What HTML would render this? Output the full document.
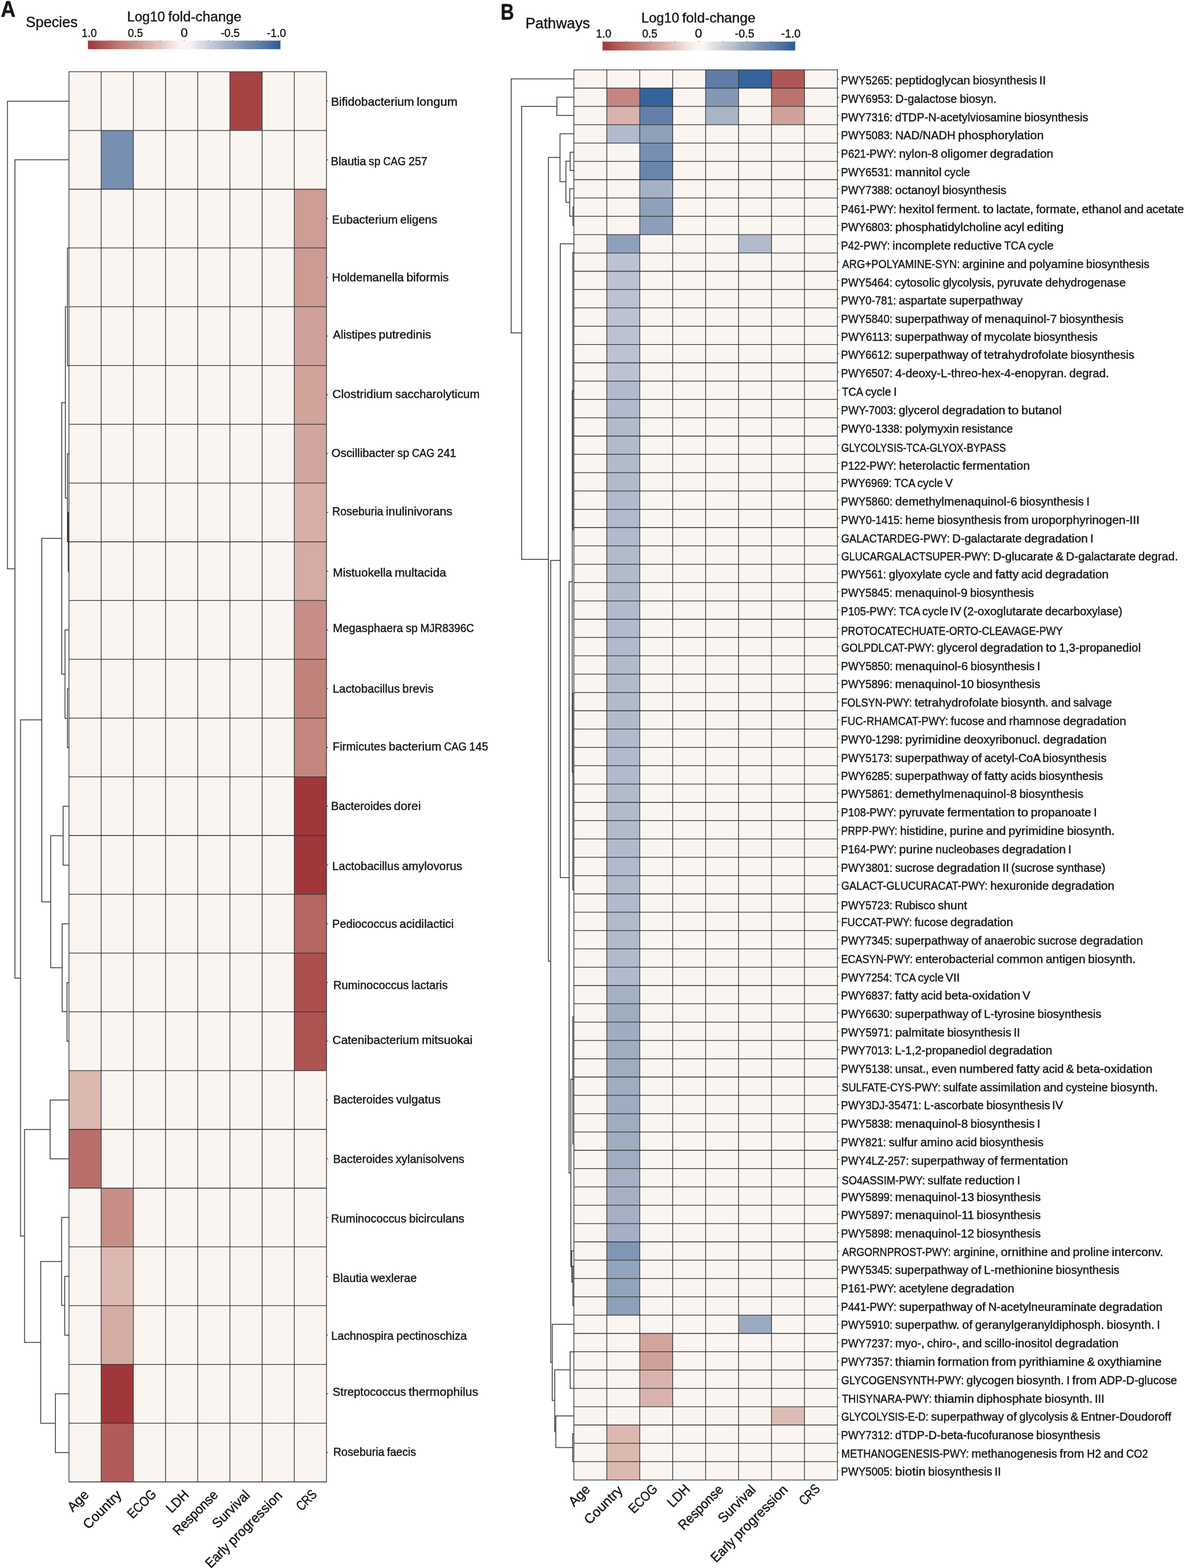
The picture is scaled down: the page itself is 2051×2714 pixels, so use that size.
<!DOCTYPE html>
<html lang="en"><head><meta charset="utf-8"><title>Species and pathways heatmaps</title>
<style>html,body{margin:0;padding:0;background:#fff;width:2051px;height:2714px}svg{display:block}text{font-family:'Liberation Sans',sans-serif;fill:#151515;stroke:#151515;stroke-width:0.45;white-space:pre}</style></head><body>
<svg width="2051" height="2714" viewBox="0 0 2051 2714">
<rect width="2051" height="2714" fill="#fff"/>
<g id="panelA">
<rect x="119.4" y="124.1" width="445.7" height="2440.9" fill="#faf5f1"/>
<rect x="397.96" y="124.1" width="55.71" height="101.7" fill="#a64344"/>
<rect x="175.11" y="225.8" width="55.71" height="101.7" fill="#778fb1"/>
<rect x="509.39" y="327.51" width="55.71" height="101.7" fill="#ce9d95"/>
<rect x="509.39" y="429.21" width="55.71" height="101.7" fill="#cd9b94"/>
<rect x="509.39" y="530.92" width="55.71" height="101.7" fill="#d0a19a"/>
<rect x="509.39" y="632.62" width="55.71" height="101.7" fill="#d1a39b"/>
<rect x="509.39" y="734.33" width="55.71" height="101.7" fill="#d2a69e"/>
<rect x="509.39" y="836.03" width="55.71" height="101.7" fill="#d7afa7"/>
<rect x="509.39" y="937.73" width="55.71" height="101.7" fill="#d5aca4"/>
<rect x="509.39" y="1039.44" width="55.71" height="101.7" fill="#c78e87"/>
<rect x="509.39" y="1141.14" width="55.71" height="101.7" fill="#c2827c"/>
<rect x="509.39" y="1242.85" width="55.71" height="101.7" fill="#c48680"/>
<rect x="509.39" y="1344.55" width="55.71" height="101.7" fill="#a0373b"/>
<rect x="509.39" y="1446.25" width="55.71" height="101.7" fill="#a0373b"/>
<rect x="509.39" y="1547.96" width="55.71" height="101.7" fill="#b66663"/>
<rect x="509.39" y="1649.66" width="55.71" height="101.7" fill="#ac4f4f"/>
<rect x="509.39" y="1751.37" width="55.71" height="101.7" fill="#ad5351"/>
<rect x="119.4" y="1853.07" width="55.71" height="101.7" fill="#dbb8b0"/>
<rect x="119.4" y="1954.77" width="55.71" height="101.7" fill="#ba6e6a"/>
<rect x="175.11" y="2056.48" width="55.71" height="101.7" fill="#c78e87"/>
<rect x="175.11" y="2158.18" width="55.71" height="101.7" fill="#dbb8b0"/>
<rect x="175.11" y="2259.89" width="55.71" height="101.7" fill="#d5aca4"/>
<rect x="175.11" y="2361.59" width="55.71" height="101.7" fill="#a0373b"/>
<rect x="175.11" y="2463.3" width="55.71" height="101.7" fill="#b15c5a"/>
<path d="M119.4 124.1H565.1M119.4 225.8H565.1M119.4 327.51H565.1M119.4 429.21H565.1M119.4 530.92H565.1M119.4 632.62H565.1M119.4 734.33H565.1M119.4 836.03H565.1M119.4 937.73H565.1M119.4 1039.44H565.1M119.4 1141.14H565.1M119.4 1242.85H565.1M119.4 1344.55H565.1M119.4 1446.25H565.1M119.4 1547.96H565.1M119.4 1649.66H565.1M119.4 1751.37H565.1M119.4 1853.07H565.1M119.4 1954.77H565.1M119.4 2056.48H565.1M119.4 2158.18H565.1M119.4 2259.89H565.1M119.4 2361.59H565.1M119.4 2463.3H565.1M119.4 2565H565.1M119.4 124.1V2565M175.11 124.1V2565M230.83 124.1V2565M286.54 124.1V2565M342.25 124.1V2565M397.96 124.1V2565M453.68 124.1V2565M509.39 124.1V2565M565.1 124.1V2565" fill="none" stroke="#363636" stroke-width="1.3" stroke-linecap="square"/>
<path d="M565.1 174.95h2.8M565.1 276.66h2.8M565.1 378.36h2.8M565.1 480.06h2.8M565.1 581.77h2.8M565.1 683.47h2.8M565.1 785.18h2.8M565.1 886.88h2.8M565.1 988.59h2.8M565.1 1090.29h2.8M565.1 1191.99h2.8M565.1 1293.7h2.8M565.1 1395.4h2.8M565.1 1497.11h2.8M565.1 1598.81h2.8M565.1 1700.51h2.8M565.1 1802.22h2.8M565.1 1903.92h2.8M565.1 2005.63h2.8M565.1 2107.33h2.8M565.1 2209.04h2.8M565.1 2310.74h2.8M565.1 2412.44h2.8M565.1 2514.15h2.8" fill="none" stroke="#363636" stroke-width="1.2"/>
<path d="M119.4 175.3H12.9V984.5H25.8M119.4 276.6H25.8V1693H35.5M72.3 1246H35.5V2139.5H42.5M106.8 931.8H72.3V1561H87.7M113.2 697H106.8V1166.8H112.5M116.7 531H113.2V862H116.7M119.4 429.2H116.7V633H119.4M119.4 785.4H116.7V938H118.2M119.4 887H118.2V989H119.4M119.4 1090.2H112.5V1243.4H116.7M119.4 1192.3H116.7V1294.2H119.4M109.3 1446.4H87.7V1675H107.6M119.4 1395.6H109.3V1497.4H119.4M119.4 1599H107.6V1751H116M119.4 1700.8H116V1802.2H119.4M86.7 1955H42.5V2323.6H70.5M119.4 1904H86.7V2005.8H119.4M106.6 2183.6H70.5V2463.5H95.8M119.4 2107.3H106.6V2259.5H112M119.4 2209.3H112V2311H119.4M119.4 2412.5H95.8V2514.2H119.4" fill="none" stroke="#3c3c3c" stroke-width="1.5" stroke-linejoin="miter"/>
<text transform="translate(574.6 182.6)" font-size="20.49"><tspan x="-1.71" textLength="143.87" lengthAdjust="spacingAndGlyphs">Bifidobacterium</tspan> <tspan x="146.72" textLength="70.6" lengthAdjust="spacingAndGlyphs">longum</tspan></text>
<text transform="translate(574.2 285.6)" font-size="20.34"><tspan x="-1.64" textLength="60.99" lengthAdjust="spacingAndGlyphs">Blautia</tspan> <tspan x="63.88" textLength="20.59" lengthAdjust="spacingAndGlyphs">sp</tspan> <tspan x="89" textLength="39.22" lengthAdjust="spacingAndGlyphs">CAG</tspan> <tspan x="132.75" textLength="32.84" lengthAdjust="spacingAndGlyphs">257</tspan></text>
<text transform="translate(576.1 386.5)" font-size="20.4"><tspan x="-1.66" textLength="113.91" lengthAdjust="spacingAndGlyphs">Eubacterium</tspan> <tspan x="116.78" textLength="63.85" lengthAdjust="spacingAndGlyphs">eligens</tspan></text>
<text transform="translate(576.1 487.3)" font-size="20.36"><tspan x="-1.67" textLength="124.51" lengthAdjust="spacingAndGlyphs">Holdemanella</tspan> <tspan x="127.37" textLength="73.39" lengthAdjust="spacingAndGlyphs">biformis</tspan></text>
<text transform="translate(576.4 586.3)" font-size="20.28"><tspan x="-0.04" textLength="74.68" lengthAdjust="spacingAndGlyphs">Alistipes</tspan> <tspan x="79.15" textLength="90.7" lengthAdjust="spacingAndGlyphs">putredinis</tspan></text>
<text transform="translate(576.4 688.9)" font-size="20.51"><tspan x="-1.06" textLength="104.07" lengthAdjust="spacingAndGlyphs">Clostridium</tspan> <tspan x="107.58" textLength="146.17" lengthAdjust="spacingAndGlyphs">saccharolyticum</tspan></text>
<text transform="translate(574.7 791.3)" font-size="20.35"><tspan x="-0.95" textLength="109.54" lengthAdjust="spacingAndGlyphs">Oscillibacter</tspan> <tspan x="113.11" textLength="20.6" lengthAdjust="spacingAndGlyphs">sp</tspan> <tspan x="138.24" textLength="39.24" lengthAdjust="spacingAndGlyphs">CAG</tspan> <tspan x="182.01" textLength="32.86" lengthAdjust="spacingAndGlyphs">241</tspan></text>
<text transform="translate(576.5 892.2)" font-size="20.33"><tspan x="-1.59" textLength="88.46" lengthAdjust="spacingAndGlyphs">Roseburia</tspan> <tspan x="91.39" textLength="114.96" lengthAdjust="spacingAndGlyphs">inulinivorans</tspan></text>
<text transform="translate(578 998.4)" font-size="20.38"><tspan x="-1.68" textLength="102.43" lengthAdjust="spacingAndGlyphs">Mistuokella</tspan> <tspan x="105.28" textLength="89.02" lengthAdjust="spacingAndGlyphs">multacida</tspan></text>
<text transform="translate(578 1093.7)" font-size="20.43"><tspan x="-1.63" textLength="121.26" lengthAdjust="spacingAndGlyphs">Megasphaera</tspan> <tspan x="124.18" textLength="20.68" lengthAdjust="spacingAndGlyphs">sp</tspan> <tspan x="149.41" textLength="93.1" lengthAdjust="spacingAndGlyphs">MJR8396C</tspan></text>
<text transform="translate(577.4 1199)" font-size="20.39"><tspan x="-1.65" textLength="116.28" lengthAdjust="spacingAndGlyphs">Lactobacillus</tspan> <tspan x="119.16" textLength="53.67" lengthAdjust="spacingAndGlyphs">brevis</tspan></text>
<text transform="translate(577.4 1299.2)" font-size="20.31"><tspan x="-1.65" textLength="92.54" lengthAdjust="spacingAndGlyphs">Firmicutes</tspan> <tspan x="95.41" textLength="91.13" lengthAdjust="spacingAndGlyphs">bacterium</tspan> <tspan x="191.05" textLength="39.16" lengthAdjust="spacingAndGlyphs">CAG</tspan> <tspan x="234.73" textLength="32.79" lengthAdjust="spacingAndGlyphs">145</tspan></text>
<text transform="translate(574.6 1402.2)" font-size="20.38"><tspan x="-1.62" textLength="104.27" lengthAdjust="spacingAndGlyphs">Bacteroides</tspan> <tspan x="107.19" textLength="46.52" lengthAdjust="spacingAndGlyphs">dorei</tspan></text>
<text transform="translate(576.7 1505.7)" font-size="20.38"><tspan x="-1.65" textLength="116.19" lengthAdjust="spacingAndGlyphs">Lactobacillus</tspan> <tspan x="119.08" textLength="104.26" lengthAdjust="spacingAndGlyphs">amylovorus</tspan></text>
<text transform="translate(576.7 1606)" font-size="20.44"><tspan x="-1.62" textLength="111.94" lengthAdjust="spacingAndGlyphs">Pediococcus</tspan> <tspan x="114.87" textLength="93.82" lengthAdjust="spacingAndGlyphs">acidilactici</tspan></text>
<text transform="translate(578.4 1711.7)" font-size="20.42"><tspan x="-1.63" textLength="130.71" lengthAdjust="spacingAndGlyphs">Ruminococcus</tspan> <tspan x="133.62" textLength="62.9" lengthAdjust="spacingAndGlyphs">lactaris</tspan></text>
<text transform="translate(576.6 1806.6)" font-size="20.53"><tspan x="-1.05" textLength="149.91" lengthAdjust="spacingAndGlyphs">Catenibacterium</tspan> <tspan x="153.43" textLength="87.88" lengthAdjust="spacingAndGlyphs">mitsuokai</tspan></text>
<text transform="translate(578.4 1910)" font-size="20.41"><tspan x="-1.62" textLength="104.41" lengthAdjust="spacingAndGlyphs">Bacteroides</tspan> <tspan x="107.32" textLength="76.82" lengthAdjust="spacingAndGlyphs">vulgatus</tspan></text>
<text transform="translate(578 2012.7)" font-size="20.37"><tspan x="-1.62" textLength="104.19" lengthAdjust="spacingAndGlyphs">Bacteroides</tspan> <tspan x="107.1" textLength="118.72" lengthAdjust="spacingAndGlyphs">xylanisolvens</tspan></text>
<text transform="translate(574.6 2115.7)" font-size="20.37"><tspan x="-1.63" textLength="130.39" lengthAdjust="spacingAndGlyphs">Ruminococcus</tspan> <tspan x="133.29" textLength="95.74" lengthAdjust="spacingAndGlyphs">bicirculans</tspan></text>
<text transform="translate(577.4 2218.8)" font-size="20.37"><tspan x="-1.64" textLength="61.1" lengthAdjust="spacingAndGlyphs">Blautia</tspan> <tspan x="63.99" textLength="80.1" lengthAdjust="spacingAndGlyphs">wexlerae</tspan></text>
<text transform="translate(574.8 2318.9)" font-size="20.35"><tspan x="-1.63" textLength="108.24" lengthAdjust="spacingAndGlyphs">Lachnospira</tspan> <tspan x="111.14" textLength="122.36" lengthAdjust="spacingAndGlyphs">pectinoschiza</tspan></text>
<text transform="translate(576.6 2415.5)" font-size="20.37"><tspan x="-0.91" textLength="127.01" lengthAdjust="spacingAndGlyphs">Streptococcus</tspan> <tspan x="130.63" textLength="120.53" lengthAdjust="spacingAndGlyphs">thermophilus</tspan></text>
<text transform="translate(578.4 2520.4)" font-size="20.33"><tspan x="-1.59" textLength="88.47" lengthAdjust="spacingAndGlyphs">Roseburia</tspan> <tspan x="91.4" textLength="50.2" lengthAdjust="spacingAndGlyphs">faecis</tspan></text>
<text transform="translate(154.4 2589.4) rotate(-45)" font-size="23.54"><tspan x="-40.27" textLength="41.3" lengthAdjust="spacingAndGlyphs">Age</tspan></text>
<text transform="translate(211.6 2589.2) rotate(-45)" font-size="23.54"><tspan x="-83.04" textLength="83.09" lengthAdjust="spacingAndGlyphs">Country</tspan></text>
<text transform="translate(270.8 2588.8) rotate(-45)" font-size="23.54"><tspan x="-57.94" textLength="59.45" lengthAdjust="spacingAndGlyphs">ECOG</tspan></text>
<text transform="translate(327 2590) rotate(-45)" font-size="23.54"><tspan x="-42.41" textLength="44.21" lengthAdjust="spacingAndGlyphs">LDH</tspan></text>
<text transform="translate(378 2589.5) rotate(-45)" font-size="23.54"><tspan x="-97.95" textLength="98.92" lengthAdjust="spacingAndGlyphs">Response</tspan></text>
<text transform="translate(432.8 2590.2) rotate(-45)" font-size="23.54"><tspan x="-79.61" textLength="81.14" lengthAdjust="spacingAndGlyphs">Survival</tspan></text>
<text transform="translate(489 2591) rotate(-45)" font-size="23.54"><tspan x="-175.87" textLength="49.6" lengthAdjust="spacingAndGlyphs">Early</tspan> <tspan x="-121.04" textLength="122.56" lengthAdjust="spacingAndGlyphs">progression</tspan></text>
<text transform="translate(549.4 2588.8) rotate(-45)" font-size="23.54"><tspan x="-38.93" textLength="39.79" lengthAdjust="spacingAndGlyphs">CRS</tspan></text>
<linearGradient id="cbA" x1="0" x2="1" y1="0" y2="0"><stop offset="0" stop-color="#a0373b"/><stop offset="0.03" stop-color="#a54143"/><stop offset="0.05" stop-color="#a94b4b"/><stop offset="0.07" stop-color="#ae5654"/><stop offset="0.1" stop-color="#b35f5c"/><stop offset="0.12" stop-color="#b76865"/><stop offset="0.15" stop-color="#bc726e"/><stop offset="0.17" stop-color="#bf7c76"/><stop offset="0.2" stop-color="#c48680"/><stop offset="0.23" stop-color="#c88f88"/><stop offset="0.25" stop-color="#cc9991"/><stop offset="0.28" stop-color="#d1a39b"/><stop offset="0.3" stop-color="#d5aca4"/><stop offset="0.33" stop-color="#dab6ae"/><stop offset="0.35" stop-color="#dfbfb8"/><stop offset="0.38" stop-color="#e4c8c2"/><stop offset="0.4" stop-color="#e9d3ce"/><stop offset="0.42" stop-color="#efddd9"/><stop offset="0.45" stop-color="#f5e8e4"/><stop offset="0.47" stop-color="#f9f0ed"/><stop offset="0.5" stop-color="#faf5f2"/><stop offset="0.53" stop-color="#f6f3f2"/><stop offset="0.55" stop-color="#edecee"/><stop offset="0.57" stop-color="#e1e2e7"/><stop offset="0.6" stop-color="#d7dae1"/><stop offset="0.62" stop-color="#cdd1dc"/><stop offset="0.65" stop-color="#c1c8d5"/><stop offset="0.68" stop-color="#b7c0cf"/><stop offset="0.7" stop-color="#acb7c9"/><stop offset="0.72" stop-color="#a2afc4"/><stop offset="0.75" stop-color="#99a8bf"/><stop offset="0.78" stop-color="#8d9fba"/><stop offset="0.8" stop-color="#8498b6"/><stop offset="0.82" stop-color="#7990b1"/><stop offset="0.85" stop-color="#6f89ae"/><stop offset="0.88" stop-color="#6582aa"/><stop offset="0.9" stop-color="#5a7aa6"/><stop offset="0.93" stop-color="#4f73a3"/><stop offset="0.95" stop-color="#436ba0"/><stop offset="0.97" stop-color="#37649d"/><stop offset="1" stop-color="#295c99"/></linearGradient>
<rect x="152.2" y="70.3" width="333.2" height="14.9" fill="url(#cbA)"/>
<path d="M152.2 70.5v-1.3M193.85 70.5v-1.3M235.5 70.5v-1.3M277.15 70.5v-1.3M318.8 70.5v-1.3M360.45 70.5v-1.3M402.1 70.5v-1.3M443.75 70.5v-1.3M485.4 70.5v-1.3" stroke="#555" stroke-width="1.1" fill="none"/>
<text transform="translate(1.31 29) scale(0.9214 1)" font-size="38.66" font-weight="bold" stroke-width="2.6" stroke-linejoin="miter">A</text>
<text transform="translate(46 47)" font-size="26.45"><tspan x="-1.14" textLength="89.35" lengthAdjust="spacingAndGlyphs">Species</tspan></text>
<text transform="translate(222 36.8)" font-size="23.98"><tspan x="-1.93" textLength="65.57" lengthAdjust="spacingAndGlyphs">Log10</tspan> <tspan x="68.97" textLength="127.01" lengthAdjust="spacingAndGlyphs">fold-change</tspan></text>
<text transform="translate(142.6 63.7)" font-size="20.48"><tspan x="-1.45" textLength="26.5" lengthAdjust="spacingAndGlyphs">1.0</tspan></text>
<text transform="translate(222 63.7)" font-size="20.27"><tspan x="-0.74" textLength="26.23" lengthAdjust="spacingAndGlyphs">0.5</tspan></text>
<text transform="translate(313.7 63.7)" font-size="22.05"><tspan x="-1.03">0</tspan></text>
<text transform="translate(382.8 63.7)" font-size="20.46"><tspan x="-0.85" textLength="33.06" lengthAdjust="spacingAndGlyphs">-0.5</tspan></text>
<text transform="translate(462.6 63.7)" font-size="20.68"><tspan x="-0.86" textLength="33.42" lengthAdjust="spacingAndGlyphs">-1.0</tspan></text>
</g>
<g id="panelB">
<rect x="993.3" y="120.8" width="456.1" height="2440.8" fill="#faf5f1"/>
<rect x="1221.35" y="120.8" width="57.01" height="31.7" fill="#5f7da8"/>
<rect x="1278.36" y="120.8" width="57.01" height="31.7" fill="#35639c"/>
<rect x="1335.38" y="120.8" width="57.01" height="31.7" fill="#af5756"/>
<rect x="1050.31" y="152.5" width="57.01" height="31.7" fill="#c48680"/>
<rect x="1107.33" y="152.5" width="57.01" height="31.7" fill="#35639c"/>
<rect x="1221.35" y="152.5" width="57.01" height="31.7" fill="#8498b6"/>
<rect x="1335.38" y="152.5" width="57.01" height="31.7" fill="#bc726e"/>
<rect x="1050.31" y="184.2" width="57.01" height="31.7" fill="#d9b3ab"/>
<rect x="1107.33" y="184.2" width="57.01" height="31.7" fill="#6280a9"/>
<rect x="1221.35" y="184.2" width="57.01" height="31.7" fill="#a9b4c7"/>
<rect x="1335.38" y="184.2" width="57.01" height="31.7" fill="#d0a19a"/>
<rect x="1050.31" y="215.9" width="57.01" height="31.7" fill="#b1bbcb"/>
<rect x="1107.33" y="215.9" width="57.01" height="31.7" fill="#8fa0bb"/>
<rect x="1107.33" y="247.59" width="57.01" height="31.7" fill="#778fb1"/>
<rect x="1107.33" y="279.29" width="57.01" height="31.7" fill="#6a85ac"/>
<rect x="1107.33" y="310.99" width="57.01" height="31.7" fill="#a4b1c5"/>
<rect x="1107.33" y="342.69" width="57.01" height="31.7" fill="#8fa0bb"/>
<rect x="1107.33" y="374.39" width="57.01" height="31.7" fill="#8c9eb9"/>
<rect x="1050.31" y="406.09" width="57.01" height="31.7" fill="#8fa0bb"/>
<rect x="1278.36" y="406.09" width="57.01" height="31.7" fill="#b1bbcb"/>
<rect x="1050.31" y="437.79" width="57.01" height="31.7" fill="#bbc3d1"/>
<rect x="1050.31" y="469.49" width="57.01" height="31.7" fill="#bbc3d1"/>
<rect x="1050.31" y="501.18" width="57.01" height="31.7" fill="#bbc3d1"/>
<rect x="1050.31" y="532.88" width="57.01" height="31.7" fill="#bbc3d1"/>
<rect x="1050.31" y="564.58" width="57.01" height="31.7" fill="#bbc3d1"/>
<rect x="1050.31" y="596.28" width="57.01" height="31.7" fill="#bbc3d1"/>
<rect x="1050.31" y="627.98" width="57.01" height="31.7" fill="#bbc3d1"/>
<rect x="1050.31" y="659.68" width="57.01" height="31.7" fill="#b1bbcb"/>
<rect x="1050.31" y="691.38" width="57.01" height="31.7" fill="#b1bbcb"/>
<rect x="1050.31" y="723.08" width="57.01" height="31.7" fill="#b1bbcb"/>
<rect x="1050.31" y="754.77" width="57.01" height="31.7" fill="#b1bbcb"/>
<rect x="1050.31" y="786.47" width="57.01" height="31.7" fill="#b1bbcb"/>
<rect x="1050.31" y="818.17" width="57.01" height="31.7" fill="#b1bbcb"/>
<rect x="1050.31" y="849.87" width="57.01" height="31.7" fill="#b1bbcb"/>
<rect x="1050.31" y="881.57" width="57.01" height="31.7" fill="#b1bbcb"/>
<rect x="1050.31" y="913.27" width="57.01" height="31.7" fill="#b1bbcb"/>
<rect x="1050.31" y="944.97" width="57.01" height="31.7" fill="#b1bbcb"/>
<rect x="1050.31" y="976.66" width="57.01" height="31.7" fill="#b1bbcb"/>
<rect x="1050.31" y="1008.36" width="57.01" height="31.7" fill="#b1bbcb"/>
<rect x="1050.31" y="1040.06" width="57.01" height="31.7" fill="#b1bbcb"/>
<rect x="1050.31" y="1071.76" width="57.01" height="31.7" fill="#b1bbcb"/>
<rect x="1050.31" y="1103.46" width="57.01" height="31.7" fill="#b1bbcb"/>
<rect x="1050.31" y="1135.16" width="57.01" height="31.7" fill="#b1bbcb"/>
<rect x="1050.31" y="1166.86" width="57.01" height="31.7" fill="#b1bbcb"/>
<rect x="1050.31" y="1198.56" width="57.01" height="31.7" fill="#b1bbcb"/>
<rect x="1050.31" y="1230.25" width="57.01" height="31.7" fill="#b1bbcb"/>
<rect x="1050.31" y="1261.95" width="57.01" height="31.7" fill="#b1bbcb"/>
<rect x="1050.31" y="1293.65" width="57.01" height="31.7" fill="#b1bbcb"/>
<rect x="1050.31" y="1325.35" width="57.01" height="31.7" fill="#b1bbcb"/>
<rect x="1050.31" y="1357.05" width="57.01" height="31.7" fill="#b1bbcb"/>
<rect x="1050.31" y="1388.75" width="57.01" height="31.7" fill="#b1bbcb"/>
<rect x="1050.31" y="1420.45" width="57.01" height="31.7" fill="#b1bbcb"/>
<rect x="1050.31" y="1452.15" width="57.01" height="31.7" fill="#b1bbcb"/>
<rect x="1050.31" y="1483.84" width="57.01" height="31.7" fill="#b1bbcb"/>
<rect x="1050.31" y="1515.54" width="57.01" height="31.7" fill="#b1bbcb"/>
<rect x="1050.31" y="1547.24" width="57.01" height="31.7" fill="#b1bbcb"/>
<rect x="1050.31" y="1578.94" width="57.01" height="31.7" fill="#b1bbcb"/>
<rect x="1050.31" y="1610.64" width="57.01" height="31.7" fill="#b1bbcb"/>
<rect x="1050.31" y="1642.34" width="57.01" height="31.7" fill="#b1bbcb"/>
<rect x="1050.31" y="1674.04" width="57.01" height="31.7" fill="#b1bbcb"/>
<rect x="1050.31" y="1705.74" width="57.01" height="31.7" fill="#a5b0c3"/>
<rect x="1050.31" y="1737.43" width="57.01" height="31.7" fill="#9fadc1"/>
<rect x="1050.31" y="1769.13" width="57.01" height="31.7" fill="#9fadc1"/>
<rect x="1050.31" y="1800.83" width="57.01" height="31.7" fill="#9fadc1"/>
<rect x="1050.31" y="1832.53" width="57.01" height="31.7" fill="#9fadc1"/>
<rect x="1050.31" y="1864.23" width="57.01" height="31.7" fill="#9fadc1"/>
<rect x="1050.31" y="1895.93" width="57.01" height="31.7" fill="#9fadc1"/>
<rect x="1050.31" y="1927.63" width="57.01" height="31.7" fill="#9fadc1"/>
<rect x="1050.31" y="1959.32" width="57.01" height="31.7" fill="#9fadc1"/>
<rect x="1050.31" y="1991.02" width="57.01" height="31.7" fill="#9fadc1"/>
<rect x="1050.31" y="2022.72" width="57.01" height="31.7" fill="#a6b0c4"/>
<rect x="1050.31" y="2054.42" width="57.01" height="31.7" fill="#a6b0c4"/>
<rect x="1050.31" y="2086.12" width="57.01" height="31.7" fill="#a6b0c4"/>
<rect x="1050.31" y="2117.82" width="57.01" height="31.7" fill="#a6b0c4"/>
<rect x="1050.31" y="2149.52" width="57.01" height="31.7" fill="#8196b5"/>
<rect x="1050.31" y="2181.22" width="57.01" height="31.7" fill="#92a3bc"/>
<rect x="1050.31" y="2212.91" width="57.01" height="31.7" fill="#92a3bc"/>
<rect x="1050.31" y="2244.61" width="57.01" height="31.7" fill="#8d9fba"/>
<rect x="1278.36" y="2276.31" width="57.01" height="31.7" fill="#9caac1"/>
<rect x="1107.33" y="2308.01" width="57.01" height="31.7" fill="#d2a49c"/>
<rect x="1107.33" y="2339.71" width="57.01" height="31.7" fill="#d0a19a"/>
<rect x="1107.33" y="2371.41" width="57.01" height="31.7" fill="#d9b3ab"/>
<rect x="1107.33" y="2403.11" width="57.01" height="31.7" fill="#d9b3ab"/>
<rect x="1335.38" y="2434.81" width="57.01" height="31.7" fill="#ddbcb5"/>
<rect x="1050.31" y="2466.5" width="57.01" height="31.7" fill="#dbb8b0"/>
<rect x="1050.31" y="2498.2" width="57.01" height="31.7" fill="#dbb8b0"/>
<rect x="1050.31" y="2529.9" width="57.01" height="31.7" fill="#dbb8b0"/>
<path d="M993.3 120.8H1449.4M993.3 152.5H1449.4M993.3 184.2H1449.4M993.3 215.9H1449.4M993.3 247.59H1449.4M993.3 279.29H1449.4M993.3 310.99H1449.4M993.3 342.69H1449.4M993.3 374.39H1449.4M993.3 406.09H1449.4M993.3 437.79H1449.4M993.3 469.49H1449.4M993.3 501.18H1449.4M993.3 532.88H1449.4M993.3 564.58H1449.4M993.3 596.28H1449.4M993.3 627.98H1449.4M993.3 659.68H1449.4M993.3 691.38H1449.4M993.3 723.08H1449.4M993.3 754.77H1449.4M993.3 786.47H1449.4M993.3 818.17H1449.4M993.3 849.87H1449.4M993.3 881.57H1449.4M993.3 913.27H1449.4M993.3 944.97H1449.4M993.3 976.66H1449.4M993.3 1008.36H1449.4M993.3 1040.06H1449.4M993.3 1071.76H1449.4M993.3 1103.46H1449.4M993.3 1135.16H1449.4M993.3 1166.86H1449.4M993.3 1198.56H1449.4M993.3 1230.25H1449.4M993.3 1261.95H1449.4M993.3 1293.65H1449.4M993.3 1325.35H1449.4M993.3 1357.05H1449.4M993.3 1388.75H1449.4M993.3 1420.45H1449.4M993.3 1452.15H1449.4M993.3 1483.84H1449.4M993.3 1515.54H1449.4M993.3 1547.24H1449.4M993.3 1578.94H1449.4M993.3 1610.64H1449.4M993.3 1642.34H1449.4M993.3 1674.04H1449.4M993.3 1705.74H1449.4M993.3 1737.43H1449.4M993.3 1769.13H1449.4M993.3 1800.83H1449.4M993.3 1832.53H1449.4M993.3 1864.23H1449.4M993.3 1895.93H1449.4M993.3 1927.63H1449.4M993.3 1959.32H1449.4M993.3 1991.02H1449.4M993.3 2022.72H1449.4M993.3 2054.42H1449.4M993.3 2086.12H1449.4M993.3 2117.82H1449.4M993.3 2149.52H1449.4M993.3 2181.22H1449.4M993.3 2212.91H1449.4M993.3 2244.61H1449.4M993.3 2276.31H1449.4M993.3 2308.01H1449.4M993.3 2339.71H1449.4M993.3 2371.41H1449.4M993.3 2403.11H1449.4M993.3 2434.81H1449.4M993.3 2466.5H1449.4M993.3 2498.2H1449.4M993.3 2529.9H1449.4M993.3 2561.6H1449.4M993.3 120.8V2561.6M1050.31 120.8V2561.6M1107.33 120.8V2561.6M1164.34 120.8V2561.6M1221.35 120.8V2561.6M1278.36 120.8V2561.6M1335.38 120.8V2561.6M1392.39 120.8V2561.6M1449.4 120.8V2561.6" fill="none" stroke="#363636" stroke-width="1.3" stroke-linecap="square"/>
<path d="M1449.4 136.65h2.8M1449.4 168.35h2.8M1449.4 200.05h2.8M1449.4 231.75h2.8M1449.4 263.44h2.8M1449.4 295.14h2.8M1449.4 326.84h2.8M1449.4 358.54h2.8M1449.4 390.24h2.8M1449.4 421.94h2.8M1449.4 453.64h2.8M1449.4 485.34h2.8M1449.4 517.03h2.8M1449.4 548.73h2.8M1449.4 580.43h2.8M1449.4 612.13h2.8M1449.4 643.83h2.8M1449.4 675.53h2.8M1449.4 707.23h2.8M1449.4 738.92h2.8M1449.4 770.62h2.8M1449.4 802.32h2.8M1449.4 834.02h2.8M1449.4 865.72h2.8M1449.4 897.42h2.8M1449.4 929.12h2.8M1449.4 960.82h2.8M1449.4 992.51h2.8M1449.4 1024.21h2.8M1449.4 1055.91h2.8M1449.4 1087.61h2.8M1449.4 1119.31h2.8M1449.4 1151.01h2.8M1449.4 1182.71h2.8M1449.4 1214.41h2.8M1449.4 1246.1h2.8M1449.4 1277.8h2.8M1449.4 1309.5h2.8M1449.4 1341.2h2.8M1449.4 1372.9h2.8M1449.4 1404.6h2.8M1449.4 1436.3h2.8M1449.4 1467.99h2.8M1449.4 1499.69h2.8M1449.4 1531.39h2.8M1449.4 1563.09h2.8M1449.4 1594.79h2.8M1449.4 1626.49h2.8M1449.4 1658.19h2.8M1449.4 1689.89h2.8M1449.4 1721.58h2.8M1449.4 1753.28h2.8M1449.4 1784.98h2.8M1449.4 1816.68h2.8M1449.4 1848.38h2.8M1449.4 1880.08h2.8M1449.4 1911.78h2.8M1449.4 1943.48h2.8M1449.4 1975.17h2.8M1449.4 2006.87h2.8M1449.4 2038.57h2.8M1449.4 2070.27h2.8M1449.4 2101.97h2.8M1449.4 2133.67h2.8M1449.4 2165.37h2.8M1449.4 2197.06h2.8M1449.4 2228.76h2.8M1449.4 2260.46h2.8M1449.4 2292.16h2.8M1449.4 2323.86h2.8M1449.4 2355.56h2.8M1449.4 2387.26h2.8M1449.4 2418.96h2.8M1449.4 2450.65h2.8M1449.4 2482.35h2.8M1449.4 2514.05h2.8M1449.4 2545.75h2.8" fill="none" stroke="#363636" stroke-width="1.2"/>
<path d="M993.3 136.6H884.7V576.2H902.9M963.8 184.3H902.9V968.2H949.2M993.3 168.3H963.8V199.8H993.3M969.3 272.6H949.2V1663.7H953.2M993.3 231.6H969.3V314.5H979.5M986.8 279.1H979.5V350.3H986.1M993.3 263.4H986.8V295H993.3M993.3 326.7H986.1V374.2H991.6M993.3 358.5H991.6V390.2H993.3M969.7 970H953.2V2358.3H955.8M993.3 421.9H969.7V1518.9H985M990.5 1006.9H985V2030.2H988M993.3 2292.3H955.8V2424H960.2M986.8 2371H960.2V2478.2H962M993.3 2339.7H986.8V2402.9H993.3M993.3 2450.8H962V2505.5H991.2M993.3 2481.8H991.2V2530H993.3M993.3 677H990.5V1336H993.3M993.3 1868H988V2192H993.3M993.3 437H991.4V917H993.3M993.3 1200H991.4V1540H993.3M993.3 1760H991.4V1980H993.3M993.3 2165H989.6V2219H991.5M993.3 2192H991.5V2260H993.3" fill="none" stroke="#3c3c3c" stroke-width="1.5" stroke-linejoin="miter"/>
<text transform="translate(1457.1 146.4)" font-size="20.39"><tspan x="-1.53" textLength="89.39" lengthAdjust="spacingAndGlyphs">PWY5265:</tspan> <tspan x="92.39" textLength="129.83" lengthAdjust="spacingAndGlyphs">peptidoglycan</tspan> <tspan x="226.76" textLength="110.98" lengthAdjust="spacingAndGlyphs">biosynthesis</tspan> <tspan x="341.72">II</tspan></text>
<text transform="translate(1457.1 178.2)" font-size="20.47"><tspan x="-1.54" textLength="89.75" lengthAdjust="spacingAndGlyphs">PWY6953:</tspan> <tspan x="92.77" textLength="106.49" lengthAdjust="spacingAndGlyphs">D-galactose</tspan> <tspan x="203.81" textLength="64.04" lengthAdjust="spacingAndGlyphs">biosyn.</tspan></text>
<text transform="translate(1457.1 209.6)" font-size="20.34"><tspan x="-1.53" textLength="89.15" lengthAdjust="spacingAndGlyphs">PWY7316:</tspan> <tspan x="92.15" textLength="219.07" lengthAdjust="spacingAndGlyphs">dTDP-N-acetylviosamine</tspan> <tspan x="315.74" textLength="110.69" lengthAdjust="spacingAndGlyphs">biosynthesis</tspan></text>
<text transform="translate(1457.1 241.4)" font-size="20.39"><tspan x="-1.53" textLength="89.39" lengthAdjust="spacingAndGlyphs">PWY5083:</tspan> <tspan x="92.39" textLength="104.13" lengthAdjust="spacingAndGlyphs">NAD/NADH</tspan> <tspan x="201.06" textLength="148.21" lengthAdjust="spacingAndGlyphs">phosphorylation</tspan></text>
<text transform="translate(1457.1 273.2)" font-size="20.29"><tspan x="-1.51" textLength="95.9" lengthAdjust="spacingAndGlyphs">P621-PWY:</tspan> <tspan x="98.9" textLength="67.83" lengthAdjust="spacingAndGlyphs">nylon-8</tspan> <tspan x="171.25" textLength="80.67" lengthAdjust="spacingAndGlyphs">oligomer</tspan> <tspan x="256.44" textLength="109.61" lengthAdjust="spacingAndGlyphs">degradation</tspan></text>
<text transform="translate(1457.1 305)" font-size="20.32"><tspan x="-1.53" textLength="89.09" lengthAdjust="spacingAndGlyphs">PWY6531:</tspan> <tspan x="92.08" textLength="80.51" lengthAdjust="spacingAndGlyphs">mannitol</tspan> <tspan x="177.11" textLength="44.86" lengthAdjust="spacingAndGlyphs">cycle</tspan></text>
<text transform="translate(1457.1 336.4)" font-size="20.34"><tspan x="-1.53" textLength="89.15" lengthAdjust="spacingAndGlyphs">PWY7388:</tspan> <tspan x="92.15" textLength="77.27" lengthAdjust="spacingAndGlyphs">octanoyl</tspan> <tspan x="173.94" textLength="110.69" lengthAdjust="spacingAndGlyphs">biosynthesis</tspan></text>
<text transform="translate(1457.1 369.3)" font-size="20.26"><tspan x="-1.5" textLength="95.74" lengthAdjust="spacingAndGlyphs">P461-PWY:</tspan> <tspan x="98.75" textLength="60.99" lengthAdjust="spacingAndGlyphs">hexitol</tspan> <tspan x="164.24" textLength="75.42" lengthAdjust="spacingAndGlyphs">ferment.</tspan> <tspan x="244.17" textLength="18.71" lengthAdjust="spacingAndGlyphs">to</tspan> <tspan x="267.38" textLength="64.15" lengthAdjust="spacingAndGlyphs">lactate,</tspan> <tspan x="336.04" textLength="74.89" lengthAdjust="spacingAndGlyphs">formate,</tspan> <tspan x="415.44" textLength="68.21" lengthAdjust="spacingAndGlyphs">ethanol</tspan> <tspan x="488.16" textLength="34.03" lengthAdjust="spacingAndGlyphs">and</tspan> <tspan x="526.7" textLength="65.39" lengthAdjust="spacingAndGlyphs">acetate</tspan></text>
<text transform="translate(1457.1 400.4)" font-size="20.39"><tspan x="-1.53" textLength="89.4" lengthAdjust="spacingAndGlyphs">PWY6803:</tspan> <tspan x="92.4" textLength="183.78" lengthAdjust="spacingAndGlyphs">phosphatidylcholine</tspan> <tspan x="280.71" textLength="35.03" lengthAdjust="spacingAndGlyphs">acyl</tspan> <tspan x="320.27" textLength="63.72" lengthAdjust="spacingAndGlyphs">editing</tspan></text>
<text transform="translate(1457.1 431.8)" font-size="20.23"><tspan x="-1.49" textLength="84.7" lengthAdjust="spacingAndGlyphs">P42-PWY:</tspan> <tspan x="87.71" textLength="100.98" lengthAdjust="spacingAndGlyphs">incomplete</tspan> <tspan x="193.19" textLength="83.58" lengthAdjust="spacingAndGlyphs">reductive</tspan> <tspan x="281.27" textLength="35.85" lengthAdjust="spacingAndGlyphs">TCA</tspan> <tspan x="321.62" textLength="44.65" lengthAdjust="spacingAndGlyphs">cycle</tspan></text>
<text transform="translate(1457.6 463.6)" font-size="20.16"><tspan x="-0.04" textLength="203.83" lengthAdjust="spacingAndGlyphs">ARG+POLYAMINE-SYN:</tspan> <tspan x="208.28" textLength="72.91" lengthAdjust="spacingAndGlyphs">arginine</tspan> <tspan x="285.67" textLength="33.86" lengthAdjust="spacingAndGlyphs">and</tspan> <tspan x="324.01" textLength="93.72" lengthAdjust="spacingAndGlyphs">polyamine</tspan> <tspan x="422.21" textLength="109.71" lengthAdjust="spacingAndGlyphs">biosynthesis</tspan></text>
<text transform="translate(1457.1 495.5)" font-size="20.31"><tspan x="-1.53" textLength="89.02" lengthAdjust="spacingAndGlyphs">PWY5464:</tspan> <tspan x="92.01" textLength="78.03" lengthAdjust="spacingAndGlyphs">cytosolic</tspan> <tspan x="174.56" textLength="89.56" lengthAdjust="spacingAndGlyphs">glycolysis,</tspan> <tspan x="268.63" textLength="79.12" lengthAdjust="spacingAndGlyphs">pyruvate</tspan> <tspan x="352.26" textLength="139.03" lengthAdjust="spacingAndGlyphs">dehydrogenase</tspan></text>
<text transform="translate(1457.1 526.8)" font-size="20.27"><tspan x="-1.53" textLength="95.4" lengthAdjust="spacingAndGlyphs">PWY0-781:</tspan> <tspan x="98.37" textLength="82.97" lengthAdjust="spacingAndGlyphs">aspartate</tspan> <tspan x="185.86" textLength="126.98" lengthAdjust="spacingAndGlyphs">superpathway</tspan></text>
<text transform="translate(1457.1 558.6)" font-size="20.34"><tspan x="-1.53" textLength="89.19" lengthAdjust="spacingAndGlyphs">PWY5840:</tspan> <tspan x="92.19" textLength="127.45" lengthAdjust="spacingAndGlyphs">superpathway</tspan> <tspan x="224.16" textLength="17.95" lengthAdjust="spacingAndGlyphs">of</tspan> <tspan x="246.64" textLength="125.53" lengthAdjust="spacingAndGlyphs">menaquinol-7</tspan> <tspan x="376.69" textLength="110.73" lengthAdjust="spacingAndGlyphs">biosynthesis</tspan></text>
<text transform="translate(1457.1 589.6)" font-size="20.28"><tspan x="-1.53" textLength="88.93" lengthAdjust="spacingAndGlyphs">PWY6113:</tspan> <tspan x="91.92" textLength="127.07" lengthAdjust="spacingAndGlyphs">superpathway</tspan> <tspan x="223.5" textLength="17.9" lengthAdjust="spacingAndGlyphs">of</tspan> <tspan x="245.92" textLength="81.99" lengthAdjust="spacingAndGlyphs">mycolate</tspan> <tspan x="332.42" textLength="110.41" lengthAdjust="spacingAndGlyphs">biosynthesis</tspan></text>
<text transform="translate(1457.1 621.4)" font-size="20.28"><tspan x="-1.53" textLength="88.92" lengthAdjust="spacingAndGlyphs">PWY6612:</tspan> <tspan x="91.9" textLength="127.06" lengthAdjust="spacingAndGlyphs">superpathway</tspan> <tspan x="223.47" textLength="17.9" lengthAdjust="spacingAndGlyphs">of</tspan> <tspan x="245.88" textLength="145.34" lengthAdjust="spacingAndGlyphs">tetrahydrofolate</tspan> <tspan x="395.73" textLength="110.39" lengthAdjust="spacingAndGlyphs">biosynthesis</tspan></text>
<text transform="translate(1457.1 653.2)" font-size="20.38"><tspan x="-1.53" textLength="89.33" lengthAdjust="spacingAndGlyphs">PWY6507:</tspan> <tspan x="92.33" textLength="296.88" lengthAdjust="spacingAndGlyphs">4-deoxy-L-threo-hex-4-enopyran.</tspan> <tspan x="393.74" textLength="68.5" lengthAdjust="spacingAndGlyphs">degrad.</tspan></text>
<text transform="translate(1457.6 685.4)" font-size="20.27"><tspan x="-0.4" textLength="35.93" lengthAdjust="spacingAndGlyphs">TCA</tspan> <tspan x="40.04" textLength="44.76" lengthAdjust="spacingAndGlyphs">cycle</tspan> <tspan x="89.03">I</tspan></text>
<text transform="translate(1457.1 716.8)" font-size="20.26"><tspan x="-1.53" textLength="95.35" lengthAdjust="spacingAndGlyphs">PWY-7003:</tspan> <tspan x="98.33" textLength="70.73" lengthAdjust="spacingAndGlyphs">glycerol</tspan> <tspan x="173.57" textLength="109.45" lengthAdjust="spacingAndGlyphs">degradation</tspan> <tspan x="287.52" textLength="18.71" lengthAdjust="spacingAndGlyphs">to</tspan> <tspan x="310.74" textLength="69.58" lengthAdjust="spacingAndGlyphs">butanol</tspan></text>
<text transform="translate(1457.1 748.6)" font-size="20.29"><tspan x="-1.54" textLength="106.44" lengthAdjust="spacingAndGlyphs">PWY0-1338:</tspan> <tspan x="109.41" textLength="93.32" lengthAdjust="spacingAndGlyphs">polymyxin</tspan> <tspan x="207.24" textLength="88.82" lengthAdjust="spacingAndGlyphs">resistance</tspan></text>
<text transform="translate(1456.8 782.2)" font-size="19.54"><tspan x="-0.85" textLength="285.13" lengthAdjust="spacingAndGlyphs">GLYCOLYSIS-TCA-GLYOX-BYPASS</tspan></text>
<text transform="translate(1457.1 813.3)" font-size="20.28"><tspan x="-1.51" textLength="95.86" lengthAdjust="spacingAndGlyphs">P122-PWY:</tspan> <tspan x="98.87" textLength="105.2" lengthAdjust="spacingAndGlyphs">heterolactic</tspan> <tspan x="208.58" textLength="116.89" lengthAdjust="spacingAndGlyphs">fermentation</tspan></text>
<text transform="translate(1457.1 843.2)" font-size="20.04"><tspan x="-1.51" textLength="87.84" lengthAdjust="spacingAndGlyphs">PWY6969:</tspan> <tspan x="90.79" textLength="35.51" lengthAdjust="spacingAndGlyphs">TCA</tspan> <tspan x="130.75" textLength="44.23" lengthAdjust="spacingAndGlyphs">cycle</tspan> <tspan x="178.63">V</tspan></text>
<text transform="translate(1457.1 874.7)" font-size="20.38"><tspan x="-1.53" textLength="89.33" lengthAdjust="spacingAndGlyphs">PWY5860:</tspan> <tspan x="92.33" textLength="211.09" lengthAdjust="spacingAndGlyphs">demethylmenaquinol-6</tspan> <tspan x="307.95" textLength="110.9" lengthAdjust="spacingAndGlyphs">biosynthesis</tspan> <tspan x="423.11">I</tspan></text>
<text transform="translate(1457.1 906.8)" font-size="20.36"><tspan x="-1.54" textLength="106.76" lengthAdjust="spacingAndGlyphs">PWY0-1415:</tspan> <tspan x="109.74" textLength="51.07" lengthAdjust="spacingAndGlyphs">heme</tspan> <tspan x="165.35" textLength="110.8" lengthAdjust="spacingAndGlyphs">biosynthesis</tspan> <tspan x="280.67" textLength="42.76" lengthAdjust="spacingAndGlyphs">from</tspan> <tspan x="327.97" textLength="187.35" lengthAdjust="spacingAndGlyphs">uroporphyrinogen-III</tspan></text>
<text transform="translate(1456.8 938.6)" font-size="20.33"><tspan x="-0.9" textLength="187.88" lengthAdjust="spacingAndGlyphs">GALACTARDEG-PWY:</tspan> <tspan x="191.5" textLength="120.21" lengthAdjust="spacingAndGlyphs">D-galactarate</tspan> <tspan x="316.23" textLength="109.84" lengthAdjust="spacingAndGlyphs">degradation</tspan> <tspan x="430.32">I</tspan></text>
<text transform="translate(1456.8 969.6)" font-size="20.4"><tspan x="-0.89" textLength="257.95" lengthAdjust="spacingAndGlyphs">GLUCARGALACTSUPER-PWY:</tspan> <tspan x="261.59" textLength="104.69" lengthAdjust="spacingAndGlyphs">D-glucarate</tspan> <tspan x="370.49">&amp;</tspan> <tspan x="388.3" textLength="120.61" lengthAdjust="spacingAndGlyphs">D-galactarate</tspan> <tspan x="513.46" textLength="68.59" lengthAdjust="spacingAndGlyphs">degrad.</tspan></text>
<text transform="translate(1457.1 1001.4)" font-size="20.32"><tspan x="-1.52" textLength="78.16" lengthAdjust="spacingAndGlyphs">PWY561:</tspan> <tspan x="81.16" textLength="91.68" lengthAdjust="spacingAndGlyphs">glyoxylate</tspan> <tspan x="177.36" textLength="44.87" lengthAdjust="spacingAndGlyphs">cycle</tspan> <tspan x="226.75" textLength="34.14" lengthAdjust="spacingAndGlyphs">and</tspan> <tspan x="265.41" textLength="40.67" lengthAdjust="spacingAndGlyphs">fatty</tspan> <tspan x="310.6" textLength="36.85" lengthAdjust="spacingAndGlyphs">acid</tspan> <tspan x="351.97" textLength="109.78" lengthAdjust="spacingAndGlyphs">degradation</tspan></text>
<text transform="translate(1457.1 1032.5)" font-size="20.32"><tspan x="-1.53" textLength="89.07" lengthAdjust="spacingAndGlyphs">PWY5845:</tspan> <tspan x="92.06" textLength="125.36" lengthAdjust="spacingAndGlyphs">menaquinol-9</tspan> <tspan x="221.94" textLength="110.58" lengthAdjust="spacingAndGlyphs">biosynthesis</tspan></text>
<text transform="translate(1457.1 1064.6)" font-size="20.27"><tspan x="-1.5" textLength="95.8" lengthAdjust="spacingAndGlyphs">P105-PWY:</tspan> <tspan x="98.81" textLength="35.93" lengthAdjust="spacingAndGlyphs">TCA</tspan> <tspan x="139.24" textLength="44.75" lengthAdjust="spacingAndGlyphs">cycle</tspan> <tspan x="187.41">IV</tspan> <tspan x="209.97" textLength="137.51" lengthAdjust="spacingAndGlyphs">(2-oxoglutarate</tspan> <tspan x="351.99" textLength="133.43" lengthAdjust="spacingAndGlyphs">decarboxylase)</tspan></text>
<text transform="translate(1457.1 1098.6)" font-size="19.95"><tspan x="-1.44" textLength="383.62" lengthAdjust="spacingAndGlyphs">PROTOCATECHUATE-ORTO-CLEAVAGE-PWY</tspan></text>
<text transform="translate(1456.8 1127.9)" font-size="20.19"><tspan x="-0.91" textLength="160.99" lengthAdjust="spacingAndGlyphs">GOLPDLCAT-PWY:</tspan> <tspan x="164.58" textLength="70.49" lengthAdjust="spacingAndGlyphs">glycerol</tspan> <tspan x="239.55" textLength="109.06" lengthAdjust="spacingAndGlyphs">degradation</tspan> <tspan x="353.11" textLength="18.64" lengthAdjust="spacingAndGlyphs">to</tspan> <tspan x="376.25" textLength="141.42" lengthAdjust="spacingAndGlyphs">1,3-propanediol</tspan></text>
<text transform="translate(1457.1 1159.7)" font-size="20.39"><tspan x="-1.53" textLength="89.4" lengthAdjust="spacingAndGlyphs">PWY5850:</tspan> <tspan x="92.4" textLength="125.82" lengthAdjust="spacingAndGlyphs">menaquinol-6</tspan> <tspan x="222.76" textLength="110.99" lengthAdjust="spacingAndGlyphs">biosynthesis</tspan> <tspan x="338.01">I</tspan></text>
<text transform="translate(1457.1 1191.4)" font-size="20.32"><tspan x="-1.53" textLength="89.06" lengthAdjust="spacingAndGlyphs">PWY5896:</tspan> <tspan x="92.05" textLength="136.28" lengthAdjust="spacingAndGlyphs">menaquinol-10</tspan> <tspan x="232.85" textLength="110.57" lengthAdjust="spacingAndGlyphs">biosynthesis</tspan></text>
<text transform="translate(1457.1 1223.2)" font-size="20.26"><tspan x="-1.46" textLength="122.74" lengthAdjust="spacingAndGlyphs">FOLSYN-PWY:</tspan> <tspan x="125.79" textLength="145.19" lengthAdjust="spacingAndGlyphs">tetrahydrofolate</tspan> <tspan x="275.49" textLength="82.22" lengthAdjust="spacingAndGlyphs">biosynth.</tspan> <tspan x="362.22" textLength="34.04" lengthAdjust="spacingAndGlyphs">and</tspan> <tspan x="400.76" textLength="66.7" lengthAdjust="spacingAndGlyphs">salvage</tspan></text>
<text transform="translate(1457.1 1255)" font-size="20.2"><tspan x="-1.49" textLength="185.46" lengthAdjust="spacingAndGlyphs">FUC-RHAMCAT-PWY:</tspan> <tspan x="188.47" textLength="58.02" lengthAdjust="spacingAndGlyphs">fucose</tspan> <tspan x="250.98" textLength="33.94" lengthAdjust="spacingAndGlyphs">and</tspan> <tspan x="289.41" textLength="89.01" lengthAdjust="spacingAndGlyphs">rhamnose</tspan> <tspan x="382.91" textLength="109.13" lengthAdjust="spacingAndGlyphs">degradation</tspan></text>
<text transform="translate(1457.1 1286.8)" font-size="20.35"><tspan x="-1.54" textLength="106.72" lengthAdjust="spacingAndGlyphs">PWY0-1298:</tspan> <tspan x="109.7" textLength="96.58" lengthAdjust="spacingAndGlyphs">pyrimidine</tspan> <tspan x="210.81" textLength="132.9" lengthAdjust="spacingAndGlyphs">deoxyribonucl.</tspan> <tspan x="348.23" textLength="109.92" lengthAdjust="spacingAndGlyphs">degradation</tspan></text>
<text transform="translate(1457.1 1318.6)" font-size="20.34"><tspan x="-1.53" textLength="89.17" lengthAdjust="spacingAndGlyphs">PWY5173:</tspan> <tspan x="92.17" textLength="127.42" lengthAdjust="spacingAndGlyphs">superpathway</tspan> <tspan x="224.11" textLength="17.95" lengthAdjust="spacingAndGlyphs">of</tspan> <tspan x="246.59" textLength="96.41" lengthAdjust="spacingAndGlyphs">acetyl-CoA</tspan> <tspan x="347.52" textLength="110.71" lengthAdjust="spacingAndGlyphs">biosynthesis</tspan></text>
<text transform="translate(1457.1 1349.6)" font-size="20.32"><tspan x="-1.53" textLength="89.1" lengthAdjust="spacingAndGlyphs">PWY6285:</tspan> <tspan x="92.1" textLength="127.32" lengthAdjust="spacingAndGlyphs">superpathway</tspan> <tspan x="223.94" textLength="17.94" lengthAdjust="spacingAndGlyphs">of</tspan> <tspan x="246.39" textLength="40.67" lengthAdjust="spacingAndGlyphs">fatty</tspan> <tspan x="291.59" textLength="45.3" lengthAdjust="spacingAndGlyphs">acids</tspan> <tspan x="341.4" textLength="110.62" lengthAdjust="spacingAndGlyphs">biosynthesis</tspan></text>
<text transform="translate(1457.1 1381.4)" font-size="20.34"><tspan x="-1.53" textLength="89.15" lengthAdjust="spacingAndGlyphs">PWY5861:</tspan> <tspan x="92.15" textLength="210.67" lengthAdjust="spacingAndGlyphs">demethylmenaquinol-8</tspan> <tspan x="307.34" textLength="110.68" lengthAdjust="spacingAndGlyphs">biosynthesis</tspan></text>
<text transform="translate(1457.1 1413.2)" font-size="20.29"><tspan x="-1.51" textLength="95.87" lengthAdjust="spacingAndGlyphs">P108-PWY:</tspan> <tspan x="98.88" textLength="79.04" lengthAdjust="spacingAndGlyphs">pyruvate</tspan> <tspan x="182.43" textLength="116.9" lengthAdjust="spacingAndGlyphs">fermentation</tspan> <tspan x="303.84" textLength="18.73" lengthAdjust="spacingAndGlyphs">to</tspan> <tspan x="327.09" textLength="104.6" lengthAdjust="spacingAndGlyphs">propanoate</tspan> <tspan x="435.93">I</tspan></text>
<text transform="translate(1457.1 1444.6)" font-size="20.36"><tspan x="-1.43" textLength="97.58" lengthAdjust="spacingAndGlyphs">PRPP-PWY:</tspan> <tspan x="100.68" textLength="81.43" lengthAdjust="spacingAndGlyphs">histidine,</tspan> <tspan x="186.64" textLength="58.48" lengthAdjust="spacingAndGlyphs">purine</tspan> <tspan x="249.65" textLength="34.21" lengthAdjust="spacingAndGlyphs">and</tspan> <tspan x="288.39" textLength="96.64" lengthAdjust="spacingAndGlyphs">pyrimidine</tspan> <tspan x="389.56" textLength="82.62" lengthAdjust="spacingAndGlyphs">biosynth.</tspan></text>
<text transform="translate(1457.1 1476.8)" font-size="20.36"><tspan x="-1.51" textLength="96.21" lengthAdjust="spacingAndGlyphs">P164-PWY:</tspan> <tspan x="99.23" textLength="58.47" lengthAdjust="spacingAndGlyphs">purine</tspan> <tspan x="162.23" textLength="110.74" lengthAdjust="spacingAndGlyphs">nucleobases</tspan> <tspan x="277.49" textLength="109.97" lengthAdjust="spacingAndGlyphs">degradation</tspan> <tspan x="391.72">I</tspan></text>
<text transform="translate(1457.1 1508.6)" font-size="20.33"><tspan x="-1.53" textLength="89.12" lengthAdjust="spacingAndGlyphs">PWY3801:</tspan> <tspan x="92.11" textLength="67.57" lengthAdjust="spacingAndGlyphs">sucrose</tspan> <tspan x="164.21" textLength="109.81" lengthAdjust="spacingAndGlyphs">degradation</tspan> <tspan x="277.99">II</tspan> <tspan x="293.25" textLength="73.63" lengthAdjust="spacingAndGlyphs">(sucrose</tspan> <tspan x="371.41" textLength="84.7" lengthAdjust="spacingAndGlyphs">synthase)</tspan></text>
<text transform="translate(1456.8 1540.4)" font-size="20.15"><tspan x="-0.9" textLength="253.53" lengthAdjust="spacingAndGlyphs">GALACT-GLUCURACAT-PWY:</tspan> <tspan x="257.11" textLength="101.5" lengthAdjust="spacingAndGlyphs">hexuronide</tspan> <tspan x="363.08" textLength="108.85" lengthAdjust="spacingAndGlyphs">degradation</tspan></text>
<text transform="translate(1457.1 1574.4)" font-size="20.25"><tspan x="-1.52" textLength="88.8" lengthAdjust="spacingAndGlyphs">PWY5723:</tspan> <tspan x="91.78" textLength="69.82" lengthAdjust="spacingAndGlyphs">Rubisco</tspan> <tspan x="166.1" textLength="50.75" lengthAdjust="spacingAndGlyphs">shunt</tspan></text>
<text transform="translate(1457.1 1603.2)" font-size="20.06"><tspan x="-1.45" textLength="122.82" lengthAdjust="spacingAndGlyphs">FUCCAT-PWY:</tspan> <tspan x="125.83" textLength="57.6" lengthAdjust="spacingAndGlyphs">fucose</tspan> <tspan x="187.89" textLength="108.34" lengthAdjust="spacingAndGlyphs">degradation</tspan></text>
<text transform="translate(1457.1 1635.2)" font-size="20.33"><tspan x="-1.53" textLength="89.12" lengthAdjust="spacingAndGlyphs">PWY7345:</tspan> <tspan x="92.12" textLength="127.35" lengthAdjust="spacingAndGlyphs">superpathway</tspan> <tspan x="223.99" textLength="17.94" lengthAdjust="spacingAndGlyphs">of</tspan> <tspan x="246.45" textLength="88.46" lengthAdjust="spacingAndGlyphs">anaerobic</tspan> <tspan x="339.43" textLength="67.58" lengthAdjust="spacingAndGlyphs">sucrose</tspan> <tspan x="411.54" textLength="109.81" lengthAdjust="spacingAndGlyphs">degradation</tspan></text>
<text transform="translate(1457.1 1666.8)" font-size="20.36"><tspan x="-1.45" textLength="124.07" lengthAdjust="spacingAndGlyphs">ECASYN-PWY:</tspan> <tspan x="127.15" textLength="136.14" lengthAdjust="spacingAndGlyphs">enterobacterial</tspan> <tspan x="267.82" textLength="80.5" lengthAdjust="spacingAndGlyphs">common</tspan> <tspan x="352.85" textLength="68.71" lengthAdjust="spacingAndGlyphs">antigen</tspan> <tspan x="426.09" textLength="82.6" lengthAdjust="spacingAndGlyphs">biosynth.</tspan></text>
<text transform="translate(1457.1 1698.6)" font-size="20.18"><tspan x="-1.52" textLength="88.46" lengthAdjust="spacingAndGlyphs">PWY7254:</tspan> <tspan x="91.43" textLength="35.76" lengthAdjust="spacingAndGlyphs">TCA</tspan> <tspan x="131.68" textLength="44.55" lengthAdjust="spacingAndGlyphs">cycle</tspan> <tspan x="179.35">VII</tspan></text>
<text transform="translate(1457.1 1730)" font-size="20.26"><tspan x="-1.52" textLength="88.83" lengthAdjust="spacingAndGlyphs">PWY6837:</tspan> <tspan x="91.82" textLength="40.55" lengthAdjust="spacingAndGlyphs">fatty</tspan> <tspan x="136.87" textLength="36.74" lengthAdjust="spacingAndGlyphs">acid</tspan> <tspan x="178.12" textLength="130.78" lengthAdjust="spacingAndGlyphs">beta-oxidation</tspan> <tspan x="312.59">V</tspan></text>
<text transform="translate(1457.1 1761.8)" font-size="20.29"><tspan x="-1.53" textLength="88.95" lengthAdjust="spacingAndGlyphs">PWY6630:</tspan> <tspan x="91.94" textLength="127.1" lengthAdjust="spacingAndGlyphs">superpathway</tspan> <tspan x="223.55" textLength="17.91" lengthAdjust="spacingAndGlyphs">of</tspan> <tspan x="245.97" textLength="88.21" lengthAdjust="spacingAndGlyphs">L-tyrosine</tspan> <tspan x="338.69" textLength="110.43" lengthAdjust="spacingAndGlyphs">biosynthesis</tspan></text>
<text transform="translate(1457.1 1793.6)" font-size="20.37"><tspan x="-1.53" textLength="89.29" lengthAdjust="spacingAndGlyphs">PWY5971:</tspan> <tspan x="92.29" textLength="85.48" lengthAdjust="spacingAndGlyphs">palmitate</tspan> <tspan x="182.3" textLength="110.85" lengthAdjust="spacingAndGlyphs">biosynthesis</tspan> <tspan x="297.13">II</tspan></text>
<text transform="translate(1457.1 1825.4)" font-size="20.26"><tspan x="-1.52" textLength="88.8" lengthAdjust="spacingAndGlyphs">PWY7013:</tspan> <tspan x="91.79" textLength="158.43" lengthAdjust="spacingAndGlyphs">L-1,2-propanediol</tspan> <tspan x="254.73" textLength="109.42" lengthAdjust="spacingAndGlyphs">degradation</tspan></text>
<text transform="translate(1457.1 1856.8)" font-size="20.37"><tspan x="-1.53" textLength="89.28" lengthAdjust="spacingAndGlyphs">PWY5138:</tspan> <tspan x="92.28" textLength="58.32" lengthAdjust="spacingAndGlyphs">unsat.,</tspan> <tspan x="155.13" textLength="43.55" lengthAdjust="spacingAndGlyphs">even</tspan> <tspan x="203.21" textLength="94.07" lengthAdjust="spacingAndGlyphs">numbered</tspan> <tspan x="301.81" textLength="40.75" lengthAdjust="spacingAndGlyphs">fatty</tspan> <tspan x="347.1" textLength="36.93" lengthAdjust="spacingAndGlyphs">acid</tspan> <tspan x="388.23">&amp;</tspan> <tspan x="406.01" textLength="131.45" lengthAdjust="spacingAndGlyphs">beta-oxidation</tspan></text>
<text transform="translate(1457.6 1888.6)" font-size="20.24"><tspan x="-0.79" textLength="171.06" lengthAdjust="spacingAndGlyphs">SULFATE-CYS-PWY:</tspan> <tspan x="174.77" textLength="59.24" lengthAdjust="spacingAndGlyphs">sulfate</tspan> <tspan x="238.51" textLength="105.41" lengthAdjust="spacingAndGlyphs">assimilation</tspan> <tspan x="348.43" textLength="34" lengthAdjust="spacingAndGlyphs">and</tspan> <tspan x="386.94" textLength="73" lengthAdjust="spacingAndGlyphs">cysteine</tspan> <tspan x="464.44" textLength="82.13" lengthAdjust="spacingAndGlyphs">biosynth.</tspan></text>
<text transform="translate(1457.1 1920.4)" font-size="20.26"><tspan x="-1.53" textLength="139.22" lengthAdjust="spacingAndGlyphs">PWY3DJ-35471:</tspan> <tspan x="142.19" textLength="103.43" lengthAdjust="spacingAndGlyphs">L-ascorbate</tspan> <tspan x="250.13" textLength="110.3" lengthAdjust="spacingAndGlyphs">biosynthesis</tspan> <tspan x="363.83">IV</tspan></text>
<text transform="translate(1457.1 1951.8)" font-size="20.39"><tspan x="-1.53" textLength="89.4" lengthAdjust="spacingAndGlyphs">PWY5838:</tspan> <tspan x="92.4" textLength="125.82" lengthAdjust="spacingAndGlyphs">menaquinol-8</tspan> <tspan x="222.76" textLength="110.99" lengthAdjust="spacingAndGlyphs">biosynthesis</tspan> <tspan x="338.01">I</tspan></text>
<text transform="translate(1457.1 1983.6)" font-size="20.32"><tspan x="-1.52" textLength="78.15" lengthAdjust="spacingAndGlyphs">PWY821:</tspan> <tspan x="81.15" textLength="50.17" lengthAdjust="spacingAndGlyphs">sulfur</tspan> <tspan x="135.85" textLength="56.59" lengthAdjust="spacingAndGlyphs">amino</tspan> <tspan x="196.96" textLength="36.85" lengthAdjust="spacingAndGlyphs">acid</tspan> <tspan x="238.32" textLength="110.6" lengthAdjust="spacingAndGlyphs">biosynthesis</tspan></text>
<text transform="translate(1457.1 2015.8)" font-size="20.29"><tspan x="-1.53" textLength="117.31" lengthAdjust="spacingAndGlyphs">PWY4LZ-257:</tspan> <tspan x="120.3" textLength="127.11" lengthAdjust="spacingAndGlyphs">superpathway</tspan> <tspan x="251.92" textLength="17.91" lengthAdjust="spacingAndGlyphs">of</tspan> <tspan x="274.34" textLength="116.93" lengthAdjust="spacingAndGlyphs">fermentation</tspan></text>
<text transform="translate(1457.6 2050)" font-size="20.31"><tspan x="-0.82" textLength="144.28" lengthAdjust="spacingAndGlyphs">SO4ASSIM-PWY:</tspan> <tspan x="147.98" textLength="59.45" lengthAdjust="spacingAndGlyphs">sulfate</tspan> <tspan x="211.94" textLength="86.54" lengthAdjust="spacingAndGlyphs">reduction</tspan> <tspan x="302.72">I</tspan></text>
<text transform="translate(1457.1 2078.9)" font-size="20.36"><tspan x="-1.53" textLength="89.27" lengthAdjust="spacingAndGlyphs">PWY5899:</tspan> <tspan x="92.27" textLength="136.6" lengthAdjust="spacingAndGlyphs">menaquinol-13</tspan> <tspan x="233.4" textLength="110.83" lengthAdjust="spacingAndGlyphs">biosynthesis</tspan></text>
<text transform="translate(1457.1 2110.4)" font-size="20.36"><tspan x="-1.53" textLength="89.27" lengthAdjust="spacingAndGlyphs">PWY5897:</tspan> <tspan x="92.27" textLength="136.6" lengthAdjust="spacingAndGlyphs">menaquinol-11</tspan> <tspan x="233.4" textLength="110.83" lengthAdjust="spacingAndGlyphs">biosynthesis</tspan></text>
<text transform="translate(1457.1 2142.2)" font-size="20.36"><tspan x="-1.53" textLength="89.27" lengthAdjust="spacingAndGlyphs">PWY5898:</tspan> <tspan x="92.27" textLength="136.6" lengthAdjust="spacingAndGlyphs">menaquinol-12</tspan> <tspan x="233.4" textLength="110.83" lengthAdjust="spacingAndGlyphs">biosynthesis</tspan></text>
<text transform="translate(1457.6 2173.6)" font-size="20.23"><tspan x="-0.03" textLength="188.14" lengthAdjust="spacingAndGlyphs">ARGORNPROST-PWY:</tspan> <tspan x="192.61" textLength="77.57" lengthAdjust="spacingAndGlyphs">arginine,</tspan> <tspan x="274.68" textLength="81.54" lengthAdjust="spacingAndGlyphs">ornithine</tspan> <tspan x="360.71" textLength="33.99" lengthAdjust="spacingAndGlyphs">and</tspan> <tspan x="399.2" textLength="63.07" lengthAdjust="spacingAndGlyphs">proline</tspan> <tspan x="466.77" textLength="88.9" lengthAdjust="spacingAndGlyphs">interconv.</tspan></text>
<text transform="translate(1457.1 2205.4)" font-size="20.28"><tspan x="-1.53" textLength="88.91" lengthAdjust="spacingAndGlyphs">PWY5345:</tspan> <tspan x="91.9" textLength="127.05" lengthAdjust="spacingAndGlyphs">superpathway</tspan> <tspan x="223.45" textLength="17.9" lengthAdjust="spacingAndGlyphs">of</tspan> <tspan x="245.86" textLength="119.77" lengthAdjust="spacingAndGlyphs">L-methionine</tspan> <tspan x="370.14" textLength="110.38" lengthAdjust="spacingAndGlyphs">biosynthesis</tspan></text>
<text transform="translate(1457.1 2237.2)" font-size="20.27"><tspan x="-1.5" textLength="95.8" lengthAdjust="spacingAndGlyphs">P161-PWY:</tspan> <tspan x="98.81" textLength="85.63" lengthAdjust="spacingAndGlyphs">acetylene</tspan> <tspan x="188.95" textLength="109.5" lengthAdjust="spacingAndGlyphs">degradation</tspan></text>
<text transform="translate(1457.1 2268.6)" font-size="20.32"><tspan x="-1.51" textLength="96.03" lengthAdjust="spacingAndGlyphs">P441-PWY:</tspan> <tspan x="99.05" textLength="127.29" lengthAdjust="spacingAndGlyphs">superpathway</tspan> <tspan x="230.86" textLength="17.93" lengthAdjust="spacingAndGlyphs">of</tspan> <tspan x="253.31" textLength="187.36" lengthAdjust="spacingAndGlyphs">N-acetylneuraminate</tspan> <tspan x="445.18" textLength="109.76" lengthAdjust="spacingAndGlyphs">degradation</tspan></text>
<text transform="translate(1457.1 2300.4)" font-size="20.34"><tspan x="-1.53" textLength="89.16" lengthAdjust="spacingAndGlyphs">PWY5910:</tspan> <tspan x="92.15" textLength="111.48" lengthAdjust="spacingAndGlyphs">superpathw.</tspan> <tspan x="208.15" textLength="17.95" lengthAdjust="spacingAndGlyphs">of</tspan> <tspan x="230.62" textLength="223.21" lengthAdjust="spacingAndGlyphs">geranylgeranyldiphosph.</tspan> <tspan x="458.35" textLength="82.52" lengthAdjust="spacingAndGlyphs">biosynth.</tspan> <tspan x="545.12">I</tspan></text>
<text transform="translate(1457.1 2332.1)" font-size="20.38"><tspan x="-1.53" textLength="89.33" lengthAdjust="spacingAndGlyphs">PWY7237:</tspan> <tspan x="92.33" textLength="50.63" lengthAdjust="spacingAndGlyphs">myo-,</tspan> <tspan x="147.5" textLength="56.17" lengthAdjust="spacingAndGlyphs">chiro-,</tspan> <tspan x="208.2" textLength="34.23" lengthAdjust="spacingAndGlyphs">and</tspan> <tspan x="246.96" textLength="117.38" lengthAdjust="spacingAndGlyphs">scillo-inositol</tspan> <tspan x="368.88" textLength="110.07" lengthAdjust="spacingAndGlyphs">degradation</tspan></text>
<text transform="translate(1457.1 2363.9)" font-size="20.36"><tspan x="-1.53" textLength="89.28" lengthAdjust="spacingAndGlyphs">PWY7357:</tspan> <tspan x="92.28" textLength="68.91" lengthAdjust="spacingAndGlyphs">thiamin</tspan> <tspan x="165.72" textLength="88.74" lengthAdjust="spacingAndGlyphs">formation</tspan> <tspan x="258.99" textLength="42.78" lengthAdjust="spacingAndGlyphs">from</tspan> <tspan x="306.3" textLength="113.83" lengthAdjust="spacingAndGlyphs">pyrithiamine</tspan> <tspan x="424.33">&amp;</tspan> <tspan x="442.12" textLength="111.31" lengthAdjust="spacingAndGlyphs">oxythiamine</tspan></text>
<text transform="translate(1456.8 2395.9)" font-size="20.24"><tspan x="-0.89" textLength="212.3" lengthAdjust="spacingAndGlyphs">GLYCOGENSYNTH-PWY:</tspan> <tspan x="215.91" textLength="82.35" lengthAdjust="spacingAndGlyphs">glycogen</tspan> <tspan x="302.75" textLength="82.11" lengthAdjust="spacingAndGlyphs">biosynth.</tspan> <tspan x="389.09">I</tspan> <tspan x="398.94" textLength="42.51" lengthAdjust="spacingAndGlyphs">from</tspan> <tspan x="445.96" textLength="134.41" lengthAdjust="spacingAndGlyphs">ADP-D-glucose</tspan></text>
<text transform="translate(1457.6 2427.6)" font-size="20.36"><tspan x="-0.41" textLength="155.39" lengthAdjust="spacingAndGlyphs">THISYNARA-PWY:</tspan> <tspan x="159.51" textLength="68.88" lengthAdjust="spacingAndGlyphs">thiamin</tspan> <tspan x="232.92" textLength="113.31" lengthAdjust="spacingAndGlyphs">diphosphate</tspan> <tspan x="350.76" textLength="82.6" lengthAdjust="spacingAndGlyphs">biosynth.</tspan> <tspan x="437.06">III</tspan></text>
<text transform="translate(1456.8 2459.4)" font-size="20.14"><tspan x="-0.88" textLength="151.01" lengthAdjust="spacingAndGlyphs">GLYCOLYSIS-E-D:</tspan> <tspan x="154.61" textLength="126.17" lengthAdjust="spacingAndGlyphs">superpathway</tspan> <tspan x="285.27" textLength="17.77" lengthAdjust="spacingAndGlyphs">of</tspan> <tspan x="307.52" textLength="84.45" lengthAdjust="spacingAndGlyphs">glycolysis</tspan> <tspan x="396.13">&amp;</tspan> <tspan x="413.72" textLength="156.55" lengthAdjust="spacingAndGlyphs">Entner-Doudoroff</tspan></text>
<text transform="translate(1457.1 2491.2)" font-size="20.35"><tspan x="-1.53" textLength="89.23" lengthAdjust="spacingAndGlyphs">PWY7312:</tspan> <tspan x="92.23" textLength="239.68" lengthAdjust="spacingAndGlyphs">dTDP-D-beta-fucofuranose</tspan> <tspan x="336.44" textLength="110.79" lengthAdjust="spacingAndGlyphs">biosynthesis</tspan></text>
<text transform="translate(1457.8 2523)" font-size="20.31"><tspan x="-1.47" textLength="220.55" lengthAdjust="spacingAndGlyphs">METHANOGENESIS-PWY:</tspan> <tspan x="223.6" textLength="148.08" lengthAdjust="spacingAndGlyphs">methanogenesis</tspan> <tspan x="376.2" textLength="42.66" lengthAdjust="spacingAndGlyphs">from</tspan> <tspan x="423.38" textLength="24.83" lengthAdjust="spacingAndGlyphs">H2</tspan> <tspan x="452.72" textLength="34.12" lengthAdjust="spacingAndGlyphs">and</tspan> <tspan x="491.36" textLength="37.97" lengthAdjust="spacingAndGlyphs">CO2</tspan></text>
<text transform="translate(1457.1 2554.4)" font-size="20.35"><tspan x="-1.53" textLength="89.21" lengthAdjust="spacingAndGlyphs">PWY5005:</tspan> <tspan x="92.2" textLength="52.78" lengthAdjust="spacingAndGlyphs">biotin</tspan> <tspan x="149.51" textLength="110.75" lengthAdjust="spacingAndGlyphs">biosynthesis</tspan> <tspan x="264.24">II</tspan></text>
<text transform="translate(1022 2580.2) rotate(-45)" font-size="23.54"><tspan x="-40.27" textLength="41.3" lengthAdjust="spacingAndGlyphs">Age</tspan></text>
<text transform="translate(1079 2581.1) rotate(-45)" font-size="23.54"><tspan x="-83.04" textLength="83.09" lengthAdjust="spacingAndGlyphs">Country</tspan></text>
<text transform="translate(1138.2 2579.8) rotate(-45)" font-size="23.54"><tspan x="-57.94" textLength="59.45" lengthAdjust="spacingAndGlyphs">ECOG</tspan></text>
<text transform="translate(1194.3 2580.2) rotate(-45)" font-size="23.54"><tspan x="-42.41" textLength="44.21" lengthAdjust="spacingAndGlyphs">LDH</tspan></text>
<text transform="translate(1252.6 2580.2) rotate(-45)" font-size="23.54"><tspan x="-97.95" textLength="98.92" lengthAdjust="spacingAndGlyphs">Response</tspan></text>
<text transform="translate(1308.2 2581) rotate(-45)" font-size="23.54"><tspan x="-79.61" textLength="81.14" lengthAdjust="spacingAndGlyphs">Survival</tspan></text>
<text transform="translate(1363.8 2581.2) rotate(-45)" font-size="23.54"><tspan x="-175.87" textLength="49.6" lengthAdjust="spacingAndGlyphs">Early</tspan> <tspan x="-121.04" textLength="122.56" lengthAdjust="spacingAndGlyphs">progression</tspan></text>
<text transform="translate(1420 2579) rotate(-45)" font-size="23.54"><tspan x="-38.93" textLength="39.79" lengthAdjust="spacingAndGlyphs">CRS</tspan></text>
<linearGradient id="cbB" x1="0" x2="1" y1="0" y2="0"><stop offset="0" stop-color="#a0373b"/><stop offset="0.03" stop-color="#a54143"/><stop offset="0.05" stop-color="#a94b4b"/><stop offset="0.07" stop-color="#ae5654"/><stop offset="0.1" stop-color="#b35f5c"/><stop offset="0.12" stop-color="#b76865"/><stop offset="0.15" stop-color="#bc726e"/><stop offset="0.17" stop-color="#bf7c76"/><stop offset="0.2" stop-color="#c48680"/><stop offset="0.23" stop-color="#c88f88"/><stop offset="0.25" stop-color="#cc9991"/><stop offset="0.28" stop-color="#d1a39b"/><stop offset="0.3" stop-color="#d5aca4"/><stop offset="0.33" stop-color="#dab6ae"/><stop offset="0.35" stop-color="#dfbfb8"/><stop offset="0.38" stop-color="#e4c8c2"/><stop offset="0.4" stop-color="#e9d3ce"/><stop offset="0.42" stop-color="#efddd9"/><stop offset="0.45" stop-color="#f5e8e4"/><stop offset="0.47" stop-color="#f9f0ed"/><stop offset="0.5" stop-color="#faf5f2"/><stop offset="0.53" stop-color="#f6f3f2"/><stop offset="0.55" stop-color="#edecee"/><stop offset="0.57" stop-color="#e1e2e7"/><stop offset="0.6" stop-color="#d7dae1"/><stop offset="0.62" stop-color="#cdd1dc"/><stop offset="0.65" stop-color="#c1c8d5"/><stop offset="0.68" stop-color="#b7c0cf"/><stop offset="0.7" stop-color="#acb7c9"/><stop offset="0.72" stop-color="#a2afc4"/><stop offset="0.75" stop-color="#99a8bf"/><stop offset="0.78" stop-color="#8d9fba"/><stop offset="0.8" stop-color="#8498b6"/><stop offset="0.82" stop-color="#7990b1"/><stop offset="0.85" stop-color="#6f89ae"/><stop offset="0.88" stop-color="#6582aa"/><stop offset="0.9" stop-color="#5a7aa6"/><stop offset="0.93" stop-color="#4f73a3"/><stop offset="0.95" stop-color="#436ba0"/><stop offset="0.97" stop-color="#37649d"/><stop offset="1" stop-color="#295c99"/></linearGradient>
<rect x="1042.9" y="72.1" width="333.5" height="15.3" fill="url(#cbB)"/>
<path d="M1042.9 72.3v-1.3M1084.59 72.3v-1.3M1126.28 72.3v-1.3M1167.96 72.3v-1.3M1209.65 72.3v-1.3M1251.34 72.3v-1.3M1293.03 72.3v-1.3M1334.71 72.3v-1.3M1376.4 72.3v-1.3" stroke="#555" stroke-width="1.1" fill="none"/>
<text transform="translate(866.45 34) scale(0.8472 1)" font-size="37.94" font-weight="bold" stroke-width="2.6" stroke-linejoin="miter">B</text>
<text transform="translate(911.5 48.8)" font-size="26.1"><tspan x="-2.12" textLength="111.85" lengthAdjust="spacingAndGlyphs">Pathways</tspan></text>
<text transform="translate(1112 39.1)" font-size="23.93"><tspan x="-1.93" textLength="65.43" lengthAdjust="spacingAndGlyphs">Log10</tspan> <tspan x="68.83" textLength="126.75" lengthAdjust="spacingAndGlyphs">fold-change</tspan></text>
<text transform="translate(1033 65)" font-size="20.48"><tspan x="-1.45" textLength="26.5" lengthAdjust="spacingAndGlyphs">1.0</tspan></text>
<text transform="translate(1112.3 65)" font-size="20.36"><tspan x="-0.74" textLength="26.34" lengthAdjust="spacingAndGlyphs">0.5</tspan></text>
<text transform="translate(1203.8 65)" font-size="22.48"><tspan x="-1.05">0</tspan></text>
<text transform="translate(1272.9 65)" font-size="20.72"><tspan x="-0.86" textLength="33.48" lengthAdjust="spacingAndGlyphs">-0.5</tspan></text>
<text transform="translate(1352.8 65)" font-size="20.94"><tspan x="-0.87" textLength="33.84" lengthAdjust="spacingAndGlyphs">-1.0</tspan></text>
</g>
</svg></body></html>
